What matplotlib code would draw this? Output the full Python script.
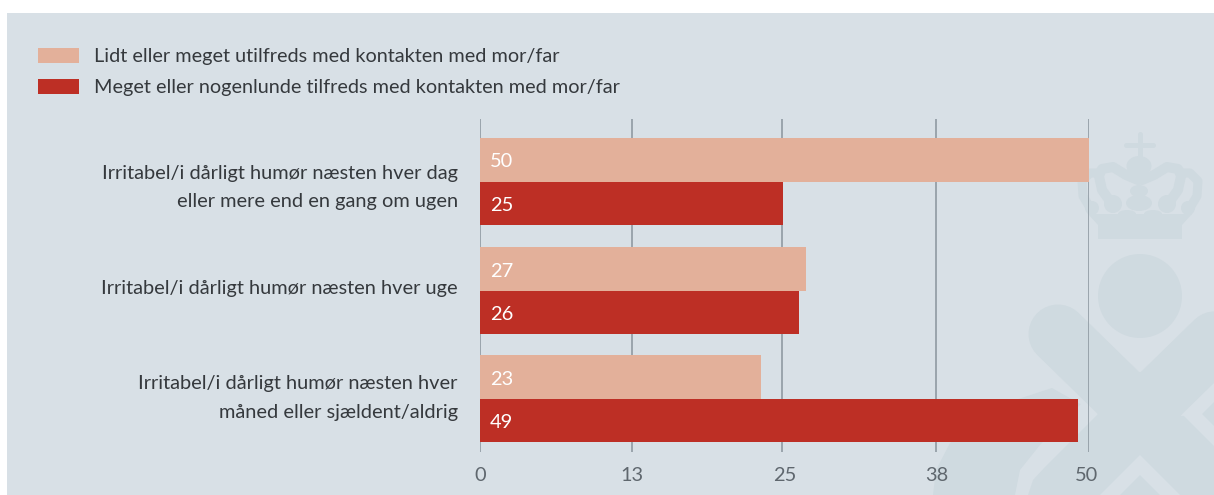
import numpy as np
import matplotlib
matplotlib.use('Agg')
import matplotlib.pyplot as plt
from matplotlib.patches import Rectangle, Circle, Ellipse, Polygon

categories = ['Irritabel/i dårligt humør næsten hver dag\neller mere end en gang om ugen',
              'Irritabel/i dårligt humør næsten hver uge',
              'Irritabel/i dårligt humør næsten hver\nmåned eller sjældent/aldrig']
utilfreds = [50, 26.8, 23.1]
tilfreds = [24.9, 26.2, 49.1]
utilfreds_labels = ['50', '27', '23']
tilfreds_labels = ['25', '26', '49']
tick_pos = [0, 12.5, 25, 37.5, 49.8]
tick_labels = ['0', '13', '25', '38', '50']
grid_pos = [0, 12.48, 24.8, 37.4, 50]
legend_labels = ['Lidt eller meget utilfreds med kontakten med mor/far',
                 'Meget eller nogenlunde tilfreds med kontakten med mor/far']

W, H = 1214, 495
light = '#e3b09a'
dark = '#bd2f25'
panel = '#d8e0e6'
mark = '#cfdae0'
txt = '#35393d'
plt.rcParams['font.family'] = ['Lato', 'DejaVu Sans']

fig = plt.figure(figsize=(W / 100, H / 100), dpi=100, facecolor='white')

# background panel + watermark, pixel coords
bg = fig.add_axes([0, 0, 1, 1])
bg.set_xlim(0, W)
bg.set_ylim(H, 0)
bg.axis('off')
bg.add_patch(Rectangle((7, 13), W - 7, H - 13, fc=panel, ec='none'))

def stroke(x, y, w, color=mark):
    bg.plot(x, y, color=color, lw=w * 0.72, solid_capstyle='round', solid_joinstyle='round')

def poly(pts, color=mark):
    bg.add_patch(Polygon(pts, closed=True, fc=color, ec='none'))

# crown
stroke([1140, 1140], [134, 160], 5)
stroke([1126, 1153], [145, 145], 5)
bg.add_patch(Ellipse((1139, 166), 25, 20, fc=mark))
poly([(1098, 239), (1182, 239), (1182, 225), (1192, 214), (1088, 214), (1098, 225)])
for sx in (-1, 1):
    stroke(1140 + sx * np.array([2, 14, 27, 38, 41, 38, 28]),
           [180, 175, 167, 169, 176, 190, 204], 10)
    stroke(1140 + sx * np.array([41, 50, 58, 57, 48]),
           [173, 173, 181, 196, 211], 9)
    bg.add_patch(Circle((1140 + sx * 27, 204), 9, fc=mark))
    bg.add_patch(Circle((1140 + sx * 48, 208), 7, fc=mark))
    bg.add_patch(Ellipse((1140 + sx * 13, 214), 18, 8, fc=mark))
bg.add_patch(Ellipse((1139, 191), 18, 12, fc=mark))
bg.add_patch(Ellipse((1139, 203), 26, 16, fc=mark))

# circle and cross
bg.add_patch(Circle((1140, 296), 42, fc=mark))
poly([(933, 495), (936, 470), (950, 443), (1000, 405), (1052, 388), (1098, 414),
      (1140, 420), (1202, 414), (1214, 396), (1214, 495)])
poly([(1100, 495), (1140, 455), (1180, 495), (1160, 495), (1140, 475), (1120, 495)], panel)
poly([(1182, 414), (1214, 382), (1214, 402), (1202, 414), (1214, 426), (1214, 446)], panel)
poly([(1098, 414), (1045, 467), (1033, 480), (1028, 495), (1015, 495), (1020, 470),
      (1040, 445), (1085, 400)], panel)
stroke([1058, 1140], [334, 414], 59)
stroke([1222, 1140], [334, 414], 59)
poly([(1098, 414), (1140, 372), (1182, 414), (1140, 455)])

ax = fig.add_axes([480 / W, 1 - 452 / H, (1089 - 480) / W, (452 - 119) / H])
ax.patch.set_alpha(0)
ax.set_xlim(0, 50)
ax.set_ylim(452, 119)
centers = np.array([181.5, 290.8, 398.8])
h = 43.5
ax.vlines(grid_pos, 119, 452, color='#8f9aa2', lw=1.2, zorder=1)
ax.barh(centers - h / 2, utilfreds, height=h, color=light, zorder=3)
ax.barh(centers + h / 2, tilfreds, height=h, color=dark, zorder=3)
for c, a, b in zip(centers, utilfreds_labels, tilfreds_labels):
    ax.text(0.8, c - h / 2 + 2, a, color='white', fontsize=14.4, va='center', zorder=4)
    ax.text(0.8, c + h / 2 + 2, b, color='white', fontsize=14.4, va='center', zorder=4)
ax.set_xticks(tick_pos)
ax.set_xticklabels(tick_labels, color='#5f676e', fontsize=14.4)
ax.tick_params(axis='x', length=0, pad=11)
ax.set_yticks([180, 287, 391])
ax.set_yticklabels(categories, color=txt, fontsize=14.4, linespacing=1.85, ha='right')
ax.tick_params(axis='y', length=0, pad=16)
for s in ax.spines.values():
    s.set_visible(False)

for y, col, lab in zip([55.5, 86.5], [light, dark], legend_labels):
    bg.add_patch(Rectangle((38, y - 7.5), 41, 15, fc=col, ec='none'))
    bg.text(94, y + 1, lab, color=txt, fontsize=14.35, va='center')

fig.savefig('out.png', dpi=100, facecolor='white')
